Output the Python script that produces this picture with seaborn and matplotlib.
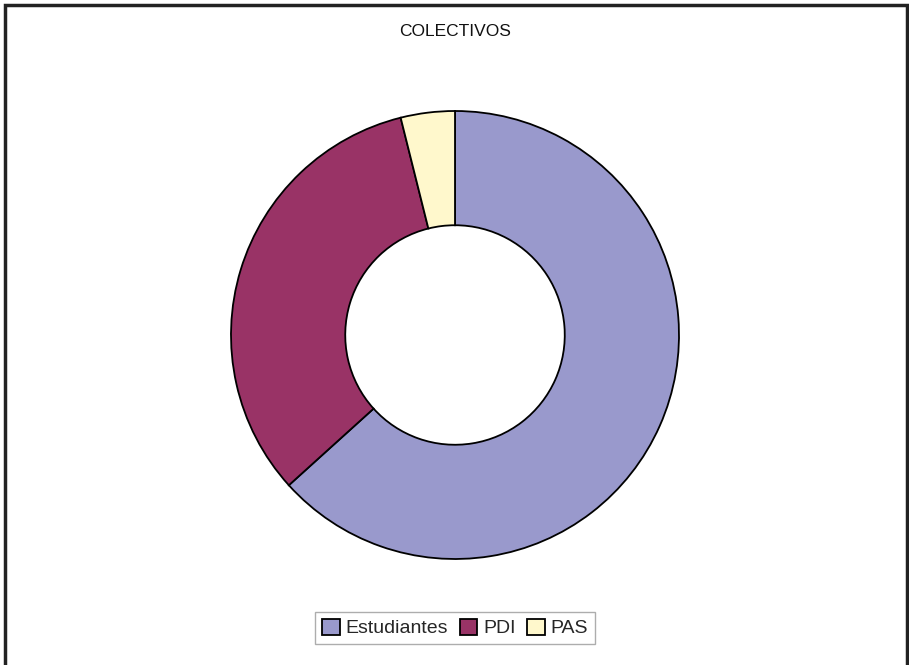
import matplotlib
matplotlib.use("Agg")
import matplotlib.pyplot as plt
import seaborn as sns
from matplotlib.patches import Rectangle

# datos (porcentaje aproximado)
categorias = ["Estudiantes", "PDI", "PAS"]
valores = [63.3, 32.8, 3.9]
colores = ["#9999CC", "#993366", "#FFF8CC"]

sns.set_theme(style="white")
plt.rcParams['font.family'] = ['Liberation Sans', 'DejaVu Sans']

W, H = 909, 665
fig = plt.figure(figsize=(W / 100, H / 100), dpi=100)
fig.patch.set_facecolor("white")

# marco exterior
fig.add_artist(Rectangle((5 / W, -0.02), (907 - 5) / W, 1.02 - 5 / H,
                         transform=fig.transFigure, fill=False,
                         edgecolor="#222222", linewidth=2.5))

# ejes del anillo
cx, cy, r = 455, 335, 224
ax = fig.add_axes([(cx - r) / W, 1 - (cy + r) / H, 2 * r / W, 2 * r / H])
wedges, _ = ax.pie(valores, colors=sns.color_palette(colores), startangle=90,
                   counterclock=False, radius=1.0,
                   wedgeprops=dict(width=0.51, edgecolor="black", linewidth=1.3))
ax.set_xlim(-1.0, 1.0)
ax.set_ylim(-1.0, 1.0)
ax.set_aspect("equal")
ax.axis("off")

fig.text(455 / W, 1 - 32 / H, "COLECTIVOS", ha="center", va="center",
         fontsize=12.5, color="#111111")

leg = fig.legend(wedges, categorias, loc="center", ncol=3,
                 bbox_to_anchor=(455 / W, 1 - 628 / H), fontsize=14,
                 frameon=True, fancybox=False, handlelength=0.9,
                 handleheight=0.9, handletextpad=0.3, columnspacing=0.6,
                 borderpad=0.35)
leg.get_frame().set_edgecolor("#999999")
leg.get_frame().set_linewidth(1.0)

fig.savefig("out.png", dpi=100, facecolor="white")
